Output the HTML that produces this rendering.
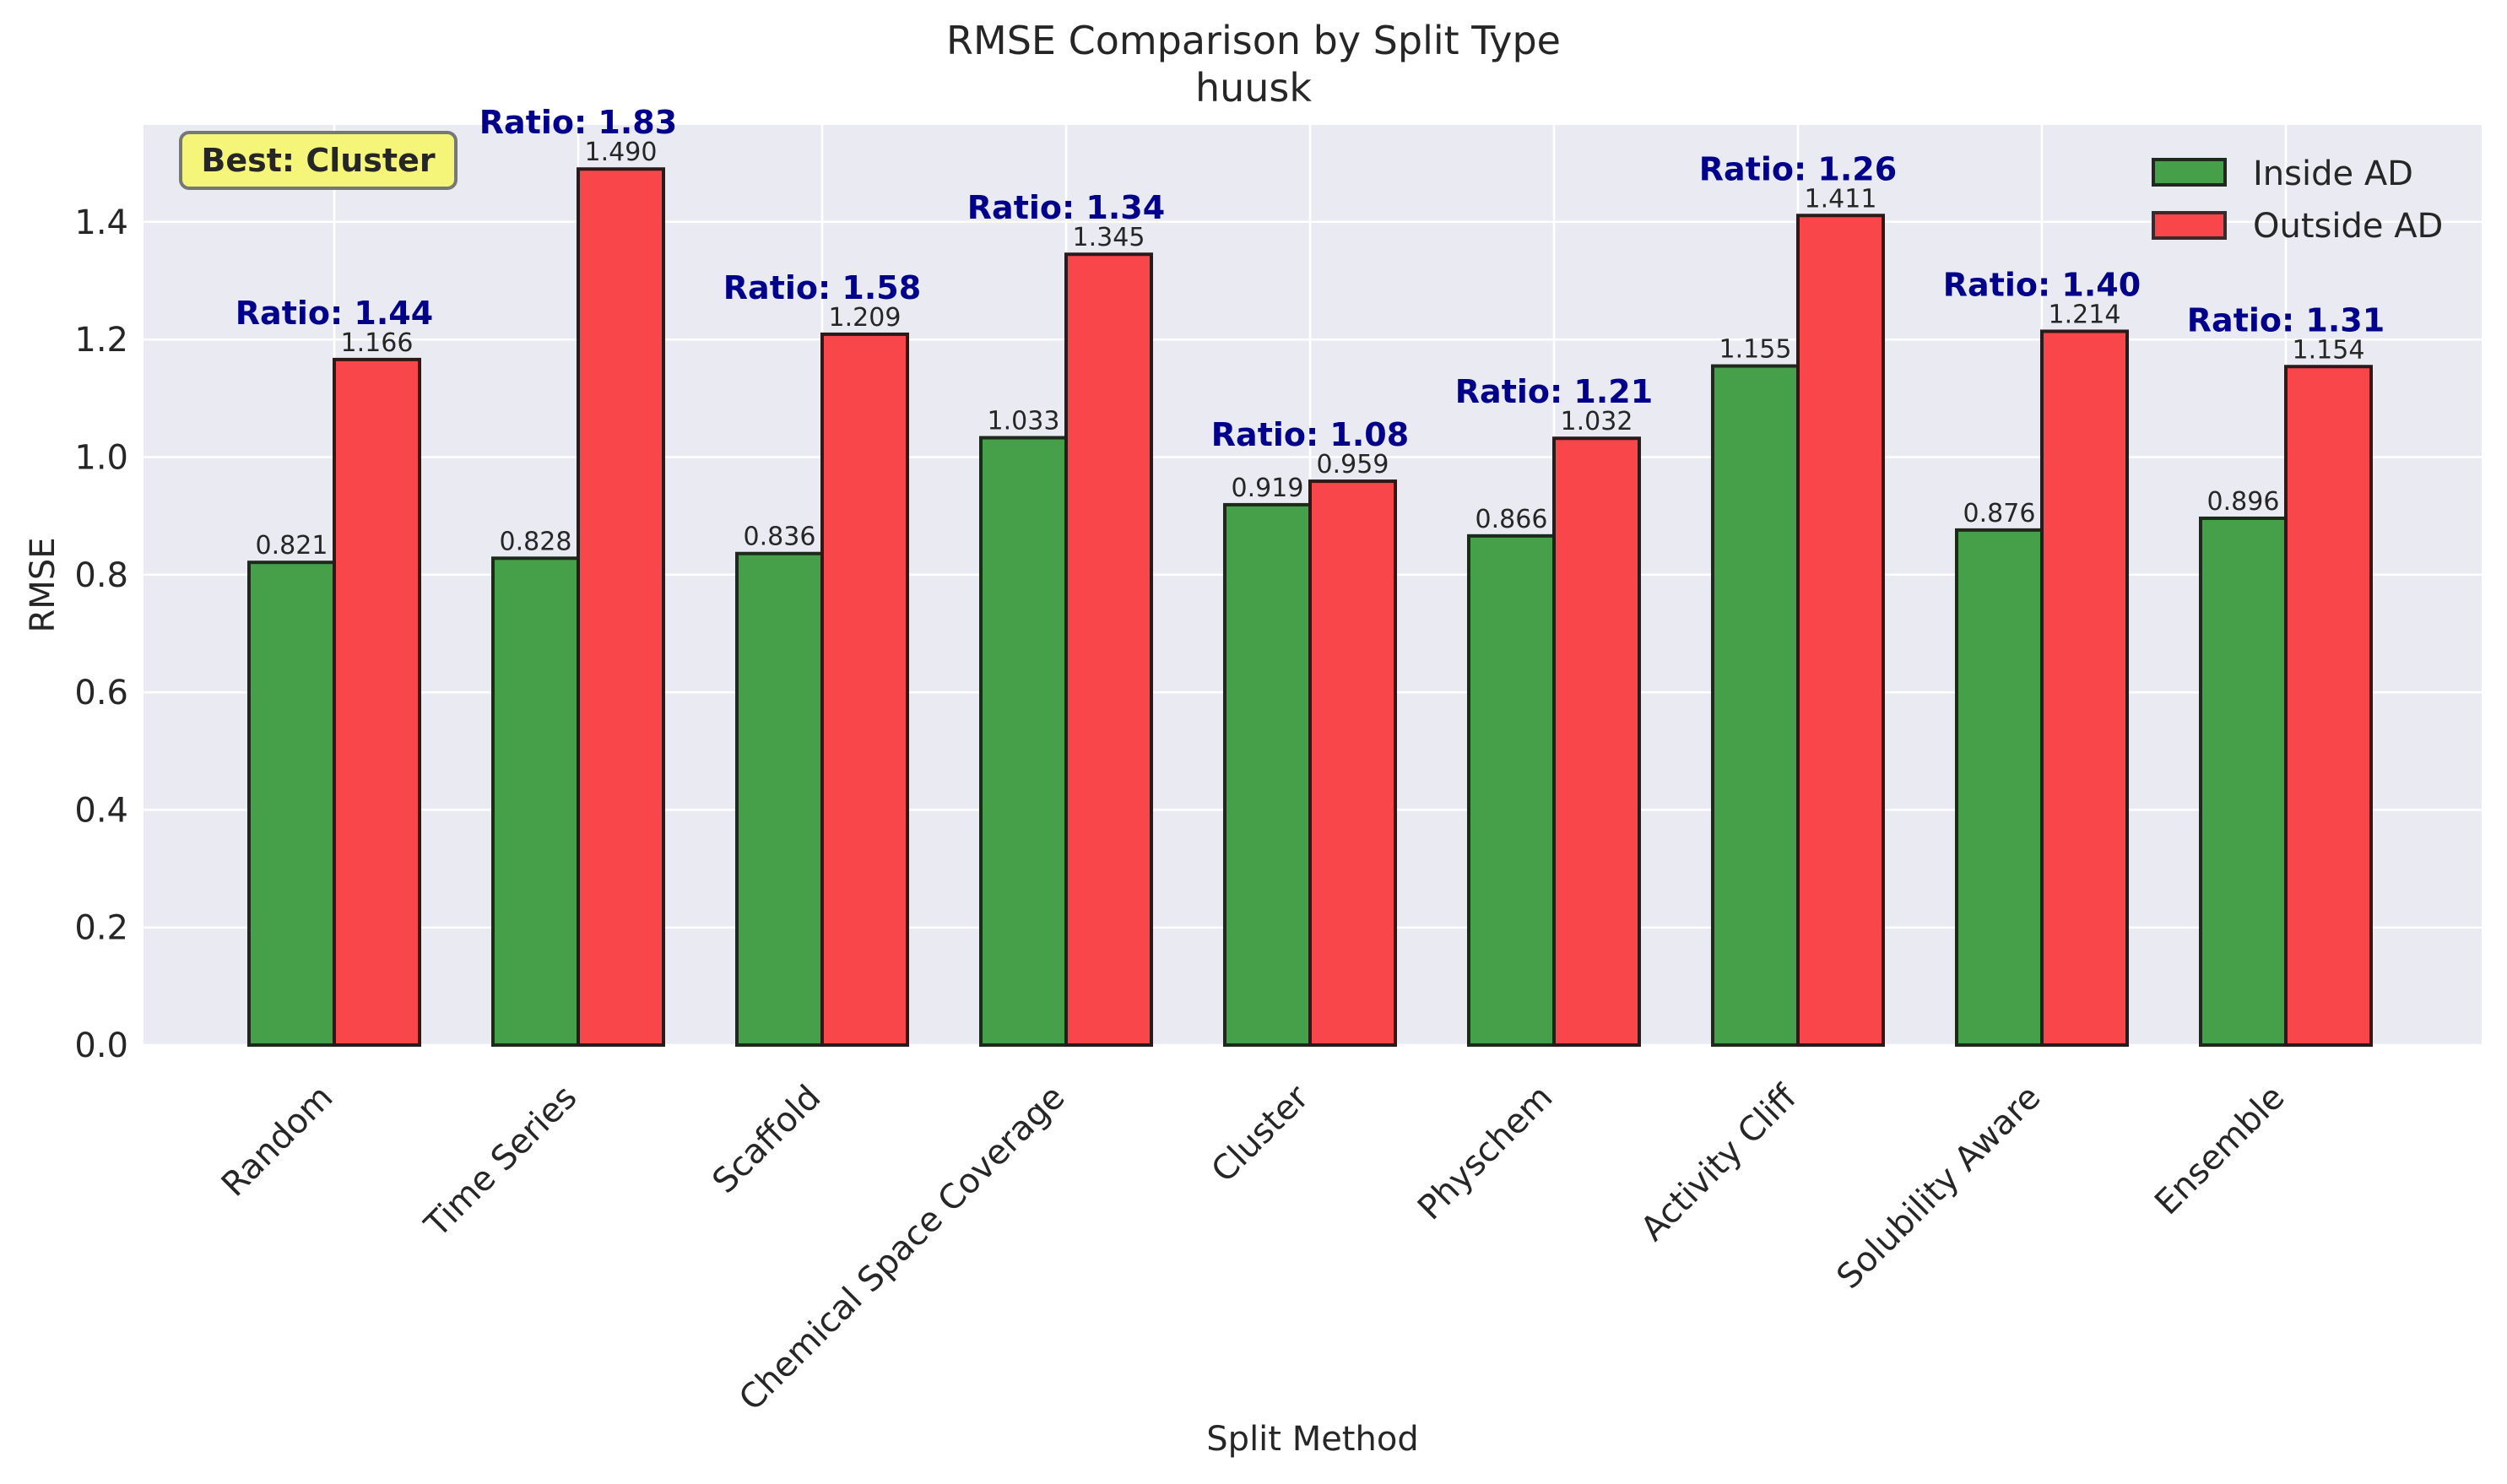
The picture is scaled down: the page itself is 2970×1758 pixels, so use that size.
<!DOCTYPE html>
<html><head><meta charset="utf-8"><style>
html,body{margin:0;padding:0;background:#fff;}
svg{display:block;font-family:"DejaVu Sans","Liberation Sans",sans-serif;}
</style></head><body>
<svg id="chart" width="2970" height="1758" viewBox="0 0 2970 1758">
<rect x="0" y="0" width="2970" height="1758" fill="#fff"/>
<text x="1485" y="64" font-size="46" text-anchor="middle" fill="#262626">RMSE Comparison by Split Type</text>
<text x="1485" y="120" font-size="46" text-anchor="middle" fill="#262626">huusk</text>
<rect x="170" y="148" width="2770" height="1090" fill="#eaeaf2"/>
<g id="grid"></g><g id="bars"></g><g id="labels"></g>
<text x="64" y="693" font-size="40" text-anchor="middle" fill="#262626" transform="rotate(-90 64 693)">RMSE</text>
<text x="1555" y="1718" font-size="40" text-anchor="middle" fill="#262626">Split Method</text>
<g>
<rect x="214" y="157" width="326" height="66" rx="10" fill="#f5f57a" stroke="#777" stroke-width="4"/>
<text x="377" y="203" font-size="38" font-weight="bold" text-anchor="middle" fill="#262626">Best: Cluster</text>
</g>
<g>
<rect x="2551" y="189" width="85" height="30" fill="#46a049" stroke="#1f2a1f" stroke-width="4"/>
<text x="2669" y="219" font-size="40" fill="#262626">Inside AD</text>
<rect x="2551" y="252" width="85" height="30" fill="#f8464a" stroke="#3a2a2a" stroke-width="4"/>
<text x="2669" y="281" font-size="40" fill="#262626">Outside AD</text>
</g>
</svg>
<script>
const categories = ["Random","Time Series","Scaffold","Chemical Space Coverage","Cluster","Physchem","Activity Cliff","Solubility Aware","Ensemble"];
const insideAD = [0.821,0.828,0.836,1.033,0.919,0.866,1.155,0.876,0.896];
const outsideAD = [1.166,1.490,1.209,1.345,0.959,1.032,1.411,1.214,1.154];
const ratios = [1.44,1.83,1.58,1.34,1.08,1.21,1.26,1.40,1.31];
const yTicks = [0.0,0.2,0.4,0.6,0.8,1.0,1.2,1.4];
const NS="http://www.w3.org/2000/svg";
const L=170,R=2940,T=148,B=1238,YMAX=1.565;
const x0=396, step=289, bw=101;
function y(v){return B-(v/YMAX)*(B-T);}
function xc(i){return x0+i*step;}
function mk(tag,attrs,parent,txt){const e=document.createElementNS(NS,tag);for(const k in attrs)e.setAttribute(k,attrs[k]);if(txt!==undefined)e.textContent=txt;parent.appendChild(e);return e;}
const grid=document.getElementById('grid'),bars=document.getElementById('bars'),labels=document.getElementById('labels');
yTicks.forEach(t=>{
  const g=mk('line',{x1:L,x2:R,y1:y(t),y2:y(t),stroke:'#fff','stroke-width':2.5},grid);
  
  
  const tl=mk('text',{x:152,y:y(t)+14,'font-size':40,'text-anchor':'end',fill:'#262626'},labels,t.toFixed(1));
  
  
});
categories.forEach((c,i)=>{
  const gl=mk('line',{x1:xc(i),x2:xc(i),y1:T,y2:B,stroke:'#fff','stroke-width':2.5},grid);
  
  
  const a=insideAD[i],b=outsideAD[i];
  const r1=mk('rect',{x:xc(i)-bw,y:y(a),width:bw,height:B-y(a),fill:'#46a049',stroke:'#1b2a1b','stroke-width':4},bars);
  
  
  const r2=mk('rect',{x:xc(i),y:y(b),width:bw,height:B-y(b),fill:'#f8464a',stroke:'#2a1a1a','stroke-width':4},bars);
  
  
  const v1=mk('text',{x:xc(i)-bw/2,y:y(a)-10,'font-size':30,'text-anchor':'middle',fill:'#262626'},labels,a.toFixed(3));
  
  
  const v2=mk('text',{x:xc(i)+bw/2,y:y(b)-10,'font-size':30,'text-anchor':'middle',fill:'#262626'},labels,b.toFixed(3));
  
  
  const rt=mk('text',{x:xc(i),y:Math.min(y(a),y(b))-42,'font-size':38,'font-weight':'bold','text-anchor':'middle',fill:'#00008b'},labels,'Ratio: '+ratios[i].toFixed(2));
  
  
  const xl=mk('text',{x:xc(i)-20,y:1282,'font-size':40,'text-anchor':'end',fill:'#262626',transform:`rotate(-45 ${xc(i)-20} 1282)`,'dominant-baseline':'hanging'},labels,c);
  
  
});
</script>
</body></html>
